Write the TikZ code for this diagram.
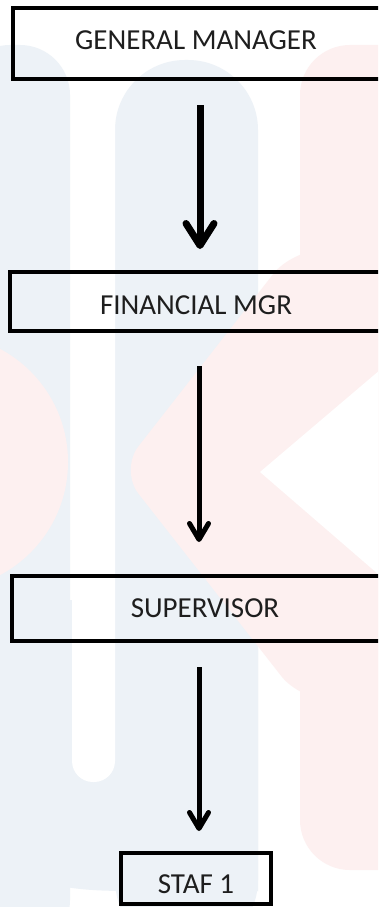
\documentclass[tikz,border=0pt]{standalone}
\usepackage{fontspec}
\setmainfont{Carlito}
\usetikzlibrary{arrows.meta}
\definecolor{wmblue}{RGB}{237,242,247}
\definecolor{wmred}{RGB}{253,240,240}
\definecolor{txt}{RGB}{30,30,30}
\tikzset{
  box/.style={draw=black, line width=4pt, rectangle, inner sep=0pt},
  lbl/.style={anchor=base, text=txt, inner sep=0pt, font=\fontsize{29}{35}\selectfont},
  arrbig/.style={draw=black, line width=7pt, -{Straight Barb[length=22pt, width=28pt, round]}},
  arrsmall/.style={draw=black, line width=5pt, -{Straight Barb[length=16pt, width=19pt, round]}}
}
\begin{document}
\begin{tikzpicture}[x=1pt, y=-1pt]
\useasboundingbox (0,0) rectangle (378,907);
\clip (0,0) rectangle (378,907);
\fill[white] (0,0) rectangle (378,907);
% watermark
\fill[wmblue, rounded corners=50pt] (-40,45) rectangle (70,950);
\fill[wmblue, rounded corners=70pt] (115,60) rectangle (258,950);
\fill[wmblue] (-10,600) -- (-10,860) .. controls (40,888) and (80,891) .. (130,891) -- (258,891) -- (258,600) -- cycle;
\fill[white, rounded corners=21pt] (72,70) rectangle (115,782);
\fill[wmred, rounded corners=50pt] (300,45) rectangle (430,870);
\fill[wmred] (-60,462) circle (128);
\fill[wmred, rounded corners=30pt] (292,250) -- (120,470) -- (300,700) -- (420,700) -- (420,250) -- cycle;
\fill[white] (260,472) -- (400,353) -- (400,593) -- cycle;
% boxes
\node[box, minimum width=410pt, minimum height=71pt] (b1) at (218,43.5) {};
\node[box, minimum width=410pt, minimum height=59pt] (b2) at (215,301.5) {};
\node[box, minimum width=410pt, minimum height=65pt] (b3) at (217,608.5) {};
\node[box, minimum width=150pt, minimum height=51pt] (b4) at (196,878.5) {};
% labels
\node[lbl] (t1) at (196,49) {GENERAL MANAGER};
\node[lbl] (t2) at (196,314) {FINANCIAL MGR};
\node[lbl] (t3) at (205,617) {SUPERVISOR};
\node[lbl] (t4) at (196,893) {STAF 1};
% connectors
\coordinate (ax1) at (200,0);
\coordinate (ax2) at (199,0);
\draw[arrbig, shorten <=24pt, shorten >=21pt] (b1.south -| ax1) -- (b2.north -| ax1);
\draw[arrsmall, shorten <=33pt, shorten >=32pt] (b2.south -| ax2) -- (b3.north -| ax2);
\draw[arrsmall, shorten <=24pt, shorten >=20pt] (b3.south -| ax2) -- (b4.north -| ax2);
\end{tikzpicture}
\end{document}
